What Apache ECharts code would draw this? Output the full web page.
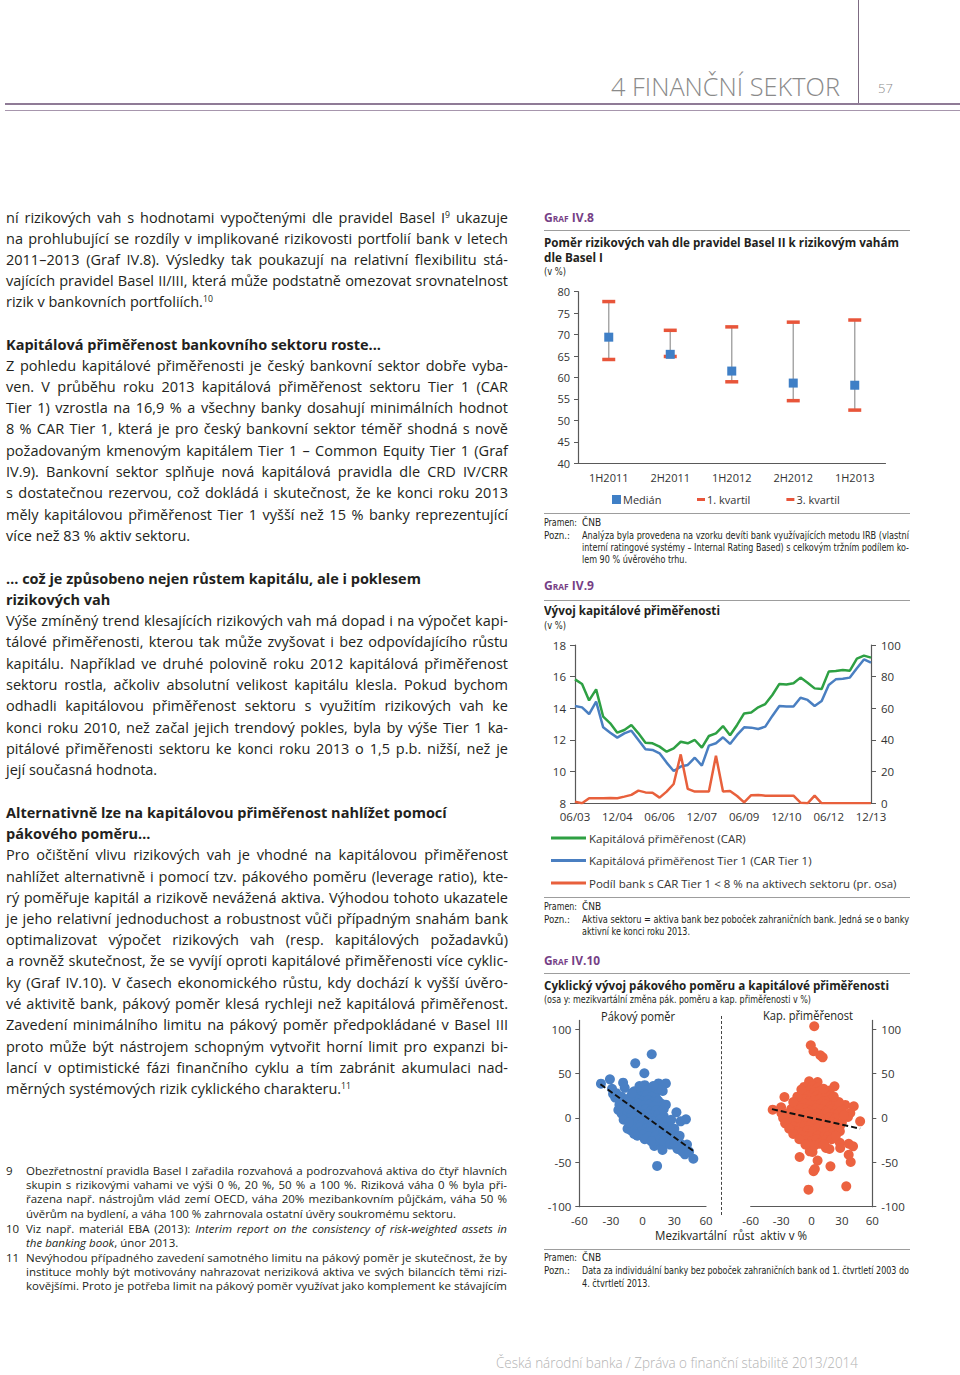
<!DOCTYPE html>
<html><head><meta charset="utf-8">
<script src="https://cdn.jsdelivr.net/npm/echarts@6/dist/echarts.min.js"></script>
<style>
html,body{margin:0;padding:0;background:#fff;}
#page{position:relative;width:960px;height:1375px;overflow:hidden;font-family:'Open Sans',sans-serif;color:#231f20;}
#chart{position:absolute;left:0;top:0;width:960px;height:1375px;}
.t{position:absolute;white-space:nowrap;transform-origin:0 50%;pointer-events:none;}
.sup{font-size:0.6em;vertical-align:0.55em;line-height:0;}
</style></head><body><div id="page"><div id="chart"></div></div>
<script>
// ---------- DATA ----------
// Graf IV.8
const q8Cats = ['1H2011','2H2011','1H2012','2H2012','1H2013'];
const q8Median = [69.4, 65.4, 61.5, 58.7, 58.2];
const q8Q1 = [64.2, 64.9, 59.0, 54.6, 52.4];
const q8Q3 = [77.7, 71.0, 71.8, 72.9, 73.4];
const q8YTicks = {min:40, max:80, interval:5};

// Graf IV.9
const q9Dates = ['06/03','09/03','12/03','03/04','06/04','09/04','12/04','03/05','06/05','09/05','12/05',
 '03/06','06/06','09/06','12/06','03/07','06/07','09/07','12/07','03/08','06/08','09/08','12/08',
 '03/09','06/09','09/09','12/09','03/10','06/10','09/10','12/10','03/11','06/11','09/11','12/11',
 '03/12','06/12','09/12','12/12','03/13','06/13','09/13','12/13'];
const q9Car = [15.83,15.54,14.5,15.2,13.47,13.05,12.46,12.63,12.95,12.42,11.83,11.79,11.58,11.26,11.47,11.89,11.79,12.0,11.52,12.25,12.42,12.88,12.3,12.95,13.68,13.73,14.06,14.27,14.84,15.54,15.5,15.58,15.94,15.62,15.26,15.22,16.32,16.36,16.42,16.38,17.14,17.33,17.2];
const q9Tier1 = [14.15,14.06,13.64,14.42,12.8,12.46,12.15,12.42,12.59,12.0,11.41,11.37,11.16,10.57,10.04,10.32,10.42,10.88,10.38,11.64,11.79,12.17,11.75,12.32,12.8,12.78,12.69,12.84,13.52,14.15,14.11,14.11,14.67,14.53,14.15,14.46,15.47,15.83,15.87,15.94,16.53,17.09,16.88];
const q9Share = [1.0,0,3.2,3.2,3.2,3.4,3.2,4.2,5.3,8.0,6.9,6.7,3.6,7.4,12.2,30.9,9.1,7.4,7.4,7.4,30.1,7.4,7.8,4.6,0.6,5.1,5.3,4.8,4.8,4.8,4.8,4.8,0.4,0,4.8,0,0,0,0,0,0,0,0];
const q9Names = ['Kapitálová přiměřenost (CAR)','Kapitálová přiměřenost Tier 1 (CAR Tier 1)','Podíl bank s CAR Tier 1 < 8 % na aktivech sektoru (pr. osa)'];

// Graf IV.10
const q10Ticks = [-100,-50,0,50,100];
const levBank = [
 [-39.5,38.7],[-31,43.6],[-29,33],[-18.5,39.8],[-17,34],[-7,61.6],[1.6,50.4],[8.6,71.8],[15,39],[22,39],[19,30.5],[18,16],[32,6.4],[36,-3.8],[41,-1.5],[-14.3,-12],[-11,-14],[11,-31.6],[18.2,-32.3],[18.8,-36],[13.7,-54],[48,-46],[40,-41],[37,-37],[-22,15],[-26,23],
 [-3,36],[2,37],[6,33],
 [-8,30],[-2,29],[3,31],[8,29],[12,27],
 [-6,25],[-1,24],[4,26],[9,24],[13,22],
 [-10,20],[-5,21],[0,19],[5,20],[10,18],[15,19],
 [-14,14],[-9,15],[-4,16],[1,14],[6,15],[11,13],[16,12],
 [-17,9],[-12,11],[-7,10],[-2,9],[3,10],[8,8],[13,9],[18,7],
 [-15,4],[-10,5],[-5,6],[0,4],[5,5],[10,3],[15,4],[20,2],
 [-13,-1],[-8,0],[-3,1],[2,-1],[7,0],[12,-2],[17,-1],[22,-3],
 [-10,-6],[-5,-4],[0,-5],[5,-6],[10,-4],[15,-7],[20,-5],[25,-8],
 [-7,-11],[-2,-10],[3,-12],[8,-9],[13,-11],[18,-13],[23,-10],[28,-14],
 [-6,-16],[-1,-15],[4,-17],[9,-14],[14,-16],[19,-18],[24,-15],[29,-19],
 [-5,-20],[0,-19],[6,-21],[12,-20],[18,-22],[23,-21],[28,-24],[32,-22],
 [14,-25],[20,-26],[25,-27],[30,-25],[35,-28],
 [26,-30],[31,-31],[36,-32],[39,-34],
 [33,-35],[38,-38],
 [-25,28],[-20,24],[-16,20],[-21,18],[-12,23],
 [-20,5],[-18,-2],[25,-15],[30,-12],[27,-2],[20,10],[22,15],[-10,28],[14,33],[10,36],
 [-13,-5],[35,-20],[42,-30],[44,-38],[30,-28],[-8,-18],[2,-24],[8,-26],[-23,9],[-28,27]
];
const levTrend = [[-40,38],[49,-38]];
const capBank = [
 [2.7,103.4],[-0.7,82],[2,75.2],[8.7,70.7],[11,68.4],[-2.3,41.4],[6,40.6],[-7.3,35],[22.7,35.7],[-26.7,23.7],[-38.3,9.4],[-29.7,5.6],[33.3,14.7],[41.7,13.2],[48,-3.8],[38.3,5.6],[36,1.1],[28,-9.4],[28,-28],[28.3,-33.8],[36.7,-29],[41,-32],[36.7,-41.4],[38.7,-49.6],[-11.7,-44],[-1.7,-37.6],[1,-38.3],[6,-48],[3.3,-57.5],[2,-60],[18.7,-54.5],[-3,-80.8],[34.3,-77],[14.3,-33.8],[17.7,-35],
 [-4,35],[1,36],[6,34],
 [-7,30],[-2,31],[3,29],[8,30],[13,28],[18,31],
 [-10,25],[-5,26],[0,24],[5,25],[10,24],[15,26],
 [-12,20],[-7,21],[-2,19],[3,20],[8,21],[13,19],[18,20],
 [-16,15],[-11,14],[-6,16],[-1,15],[4,14],[9,16],[14,15],[19,13],[24,15],
 [-20,10],[-15,9],[-10,11],[-5,10],[0,9],[5,11],[10,10],[15,8],[20,10],[25,9],
 [-24,5],[-19,6],[-14,4],[-9,5],[-4,6],[1,4],[6,5],[11,3],[16,6],[21,4],[26,5],
 [-22,0],[-17,-1],[-12,1],[-7,0],[-2,-1],[3,1],[8,0],[13,-2],[18,1],[23,-1],
 [-20,-5],[-15,-6],[-10,-4],[-5,-5],[0,-6],[5,-4],[10,-5],[15,-7],[20,-5],[25,-6],
 [-17,-10],[-12,-11],[-7,-9],[-2,-10],[3,-12],[8,-10],[13,-9],[18,-11],[22,-13],
 [-14,-15],[-9,-16],[-4,-14],[1,-15],[6,-17],[11,-15],[16,-16],[21,-18],
 [-9,-20],[-4,-21],[1,-19],[6,-20],[11,-22],[16,-21],
 [-5,-25],[0,-26],[5,-24],[10,-27],[14,-25],
 [-2,-30],[3,-31],[8,-29],
 [-28,0],[-26,-6],[-22,-12],[-18,-18],[-12,-24],[28,-15],[30,-5],[30,10],[27,18],[22,24],
 [-14,24],[-18,18],[12,33],[-10,32],[20,-24],[24,-20],[-6,-30],[12,-30],[-30,12],[32,3]
];
const capTrend = [[-39,10],[48,-12]];

// ---------- CHART ----------
const AX = '#595959';
const TXT = '#333';
const axisBase = {lineStyle:{color:AX,width:1.2}};
const chart = echarts.init(document.getElementById('chart'), null, {renderer:'svg'});
chart.setOption({
  animation:false,
  textStyle:{fontFamily:"'Open Sans',sans-serif"},
  grid:[
    {left:578, top:291.7, width:307.5, height:171.6},
    {left:575, top:645, width:296, height:158.3},
    {left:579.3, top:1020.4, width:126.7, height:186.3},
    {left:750.7, top:1020.4, width:121.6, height:186.3}
  ],
  xAxis:[
    {type:'category', gridIndex:0, data:q8Cats, axisLine:axisBase, axisTick:{show:false},
     axisLabel:{color:TXT, fontSize:11, margin:9}},
    {type:'category', gridIndex:1, data:q9Dates, boundaryGap:false, axisLine:axisBase, axisTick:{show:false},
     axisLabel:{color:TXT, fontSize:11.5, margin:7, interval:5}},
    {type:'value', gridIndex:2, min:-60, max:60, interval:30, splitLine:{show:false}, axisLine:{onZero:false, lineStyle:{color:AX,width:1.2}}, axisTick:{show:false},
     axisLabel:{color:TXT, fontSize:11.5, margin:8}},
    {type:'value', gridIndex:3, min:-60, max:60, interval:30, splitLine:{show:false}, axisLine:{onZero:false, lineStyle:{color:AX,width:1.2}}, axisTick:{show:false},
     axisLabel:{color:TXT, fontSize:11.5, margin:8}}
  ],
  yAxis:[
    {type:'value', gridIndex:0, min:q8YTicks.min, max:q8YTicks.max, interval:q8YTicks.interval, splitLine:{show:false},
     axisLine:{show:true, lineStyle:{color:AX,width:1.2}}, axisTick:{show:true, length:4, lineStyle:{color:AX}},
     axisLabel:{color:TXT, fontSize:11, margin:8}},
    {type:'value', gridIndex:1, min:8, max:18, interval:2, splitLine:{show:false}, position:'left',
     axisLine:{show:true, lineStyle:{color:AX,width:1.2}}, axisTick:{show:true, length:5, lineStyle:{color:AX}},
     axisLabel:{color:TXT, fontSize:11.5, margin:9}},
    {type:'value', gridIndex:1, min:0, max:100, interval:20, splitLine:{show:false}, position:'right',
     axisLine:{show:true, lineStyle:{color:AX,width:1.2}}, axisTick:{show:true, length:5, lineStyle:{color:AX}},
     axisLabel:{color:TXT, fontSize:11.5, margin:10}},
    {type:'value', gridIndex:2, min:-100, max:110, splitLine:{show:false}, position:'left',
     axisLine:{show:true, onZero:false, lineStyle:{color:AX,width:1.2}}, axisTick:{show:true, length:4, customValues:q10Ticks, lineStyle:{color:AX}},
     axisLabel:{color:TXT, fontSize:11.5, margin:8, customValues:q10Ticks}},
    {type:'value', gridIndex:3, min:-100, max:110, splitLine:{show:false}, position:'right',
     axisLine:{show:true, onZero:false, lineStyle:{color:AX,width:1.2}}, axisTick:{show:true, length:4, customValues:q10Ticks, lineStyle:{color:AX}},
     axisLabel:{color:TXT, fontSize:11.5, margin:9, customValues:q10Ticks}}
  ],
  legend:[
    {data:[{name:'Medián', icon:'rect'}], left:612, top:494, padding:0, itemWidth:9, itemHeight:9, itemGap:0,
     textStyle:{color:TXT, fontSize:11, padding:[0,0,0,-3]}},
    {data:[{name:'1. kvartil', icon:'rect'},{name:'3. kvartil', icon:'rect'}], left:697, top:494, padding:0, itemWidth:8, itemHeight:3, itemGap:36,
     textStyle:{color:TXT, fontSize:11, padding:[0,0,0,-3]}},
    {data:q9Names.map(n=>({name:n, icon:'rect'})), orient:'vertical', left:551, top:831, padding:0, itemWidth:35, itemHeight:3, itemGap:8.5,
     textStyle:{color:TXT, fontSize:11.5, lineHeight:14, padding:[0,0,0,-2]}}
  ],
  series:[
    {type:'custom', name:'range', xAxisIndex:0, yAxisIndex:0, silent:true, z:1,
     data:q8Cats.map((c,i)=>[i,q8Q1[i],q8Q3[i]]),
     encode:{x:0, y:[1,2]},
     renderItem:function(params, api){
       const a = api.coord([api.value(0), api.value(1)]);
       const b = api.coord([api.value(0), api.value(2)]);
       return {type:'line', shape:{x1:a[0],y1:a[1],x2:b[0],y2:b[1]}, style:{stroke:'#a3a3a3', lineWidth:1.4}};
     }},
    {type:'scatter', name:'1. kvartil', xAxisIndex:0, yAxisIndex:0, data:q8Q1, symbol:'rect', symbolSize:[13,3.5], itemStyle:{color:'#e8553a', opacity:1}, z:3},
    {type:'scatter', name:'3. kvartil', xAxisIndex:0, yAxisIndex:0, data:q8Q3, symbol:'rect', symbolSize:[13,3.5], itemStyle:{color:'#e8553a', opacity:1}, z:3},
    {type:'scatter', name:'Medián', xAxisIndex:0, yAxisIndex:0, data:q8Median, symbol:'rect', symbolSize:9, itemStyle:{color:'#3f7fc6', opacity:1}, z:4},

    {type:'line', name:q9Names[0], xAxisIndex:1, yAxisIndex:1, data:q9Car, symbol:'none', lineStyle:{color:'#2ea043', width:2.5}, itemStyle:{color:'#2ea043'}},
    {type:'line', name:q9Names[1], xAxisIndex:1, yAxisIndex:1, data:q9Tier1, symbol:'none', lineStyle:{color:'#4a7fc1', width:2.5}, itemStyle:{color:'#4a7fc1'}},
    {type:'line', name:q9Names[2], xAxisIndex:1, yAxisIndex:2, data:q9Share, symbol:'none', lineStyle:{color:'#e8603c', width:2.5}, itemStyle:{color:'#e8603c'}},

    {type:'scatter', name:'Pákový poměr', xAxisIndex:2, yAxisIndex:3, data:levBank, symbolSize:10, itemStyle:{color:'#4a80c4', opacity:1}},
    {type:'line', name:'trend pák.', xAxisIndex:2, yAxisIndex:3, data:levTrend, symbol:'none', z:5, lineStyle:{color:'#111', width:2, type:[6,3]}},
    {type:'scatter', name:'Kap. přiměřenost', xAxisIndex:3, yAxisIndex:4, data:capBank, symbolSize:10, itemStyle:{color:'#ec6240', opacity:1}},
    {type:'line', name:'trend kap.', xAxisIndex:3, yAxisIndex:4, data:capTrend, symbol:'none', z:5, lineStyle:{color:'#111', width:2, type:[6,3]}}
  ]
});

// ---------- PAGE TEXT ----------
const page = document.getElementById('page');
const COND = "'Liberation Sans Narrow','DejaVu Sans Condensed','Open Sans',sans-serif";
function box(l,t,w,h,bg,extra){const d=document.createElement('div');d.style.position='absolute';d.style.left=l+'px';d.style.top=t+'px';d.style.width=w+'px';d.style.height=h+'px';if(bg)d.style.background=bg;if(extra)Object.assign(d.style,extra);page.appendChild(d);}
function T(x,y,html,o){
  o=o||{};
  const d=document.createElement('div');
  d.className='t';
  d.innerHTML=html;
  const fs=o.fs||14.5;
  d.style.fontSize=fs+'px';
  d.style.lineHeight=Math.round(fs*1.3)+'px';
  if(o.fw) d.style.fontWeight=o.fw;
  if(o.c) d.style.color=o.c;
  if(o.ff) d.style.fontFamily=o.ff;
  if(o.sc) d.style.fontVariant='small-caps';
  page.appendChild(d);
  let w=d.getBoundingClientRect().width;
  const h=d.offsetHeight;
  if(o.w){
    if(o.j && w<o.w){
      const n=(d.textContent.match(/ /g)||[]).length;
      if(n>0){ d.style.wordSpacing=((o.w-w)/n)+'px'; w=o.w; }
    } else if(w>o.w){ d.style.transform='scaleX('+(o.w/w)+')'; w=o.w; }
  }
  let left=x;
  if(o.a==='r') left=x-w; else if(o.a==='c') left=x-w/2;
  d.style.left=left+'px';
  d.style.top=(y-h/2)+'px';
}

// header
box(858,0,1,103,'#7d6b82');
box(5,103,955,2,'#8f7b96');
box(5,110,955,1,'#a796ad');
T(840,86,'4 FINANČNÍ SEKTOR',{fs:26,fw:300,c:'#8a8a8a',a:'r',w:229});
T(878,88,'57',{fs:13,fw:300,c:'#8a8a8a'});

// left column body
const BX=6, BW=502;
const body = [
 [217,'ní rizikových vah s hodnotami vypočtenými dle pravidel Basel I<span class="sup">9</span> ukazuje',1],
 [238,'na prohlubující se rozdíly v implikované rizikovosti portfolií bank v letech',1],
 [259,'2011–2013 (Graf IV.8). Výsledky tak poukazují na relativní flexibilitu stá-',1],
 [280,'vajících pravidel Basel II/III, která může podstatně omezovat srovnatelnost',1],
 [301,'rizik v bankovních portfoliích.<span class="sup">10</span>',0],
 [344,'<b>Kapitálová přiměřenost bankovního sektoru roste...</b>',0,387],
 [365,'Z pohledu kapitálové přiměřenosti je český bankovní sektor dobře vyba-',1],
 [386,'ven. V průběhu roku 2013 kapitálová přiměřenost sektoru Tier 1 (CAR',1],
 [407,'Tier 1) vzrostla na 16,9 % a všechny banky dosahují minimálních hodnot',1],
 [428,'8 % CAR Tier 1, která je pro český bankovní sektor téměř shodná s nově',1],
 [450,'požadovaným kmenovým kapitálem Tier 1 – Common Equity Tier 1 (Graf',1],
 [471,'IV.9). Bankovní sektor splňuje nová kapitálová pravidla dle CRD IV/CRR',1],
 [492,'s dostatečnou rezervou, což dokládá i skutečnost, že ke konci roku 2013',1],
 [514,'měly kapitálovou přiměřenost Tier 1 vyšší než 15 % banky reprezentující',1],
 [535,'více než 83 % aktiv sektoru.',0],
 [578,'<b>… což je způsobeno nejen růstem kapitálu, ale i poklesem</b>',0,433],
 [599,'<b>rizikových vah</b>',0,108],
 [620,'Výše zmíněný trend klesajících rizikových vah má dopad i na výpočet kapi-',1],
 [641,'tálové přiměřenosti, kterou tak může zvyšovat i bez odpovídajícího růstu',1],
 [663,'kapitálu. Například ve druhé polovině roku 2012 kapitálová přiměřenost',1],
 [684,'sektoru rostla, ačkoliv absolutní velikost kapitálu klesla. Pokud bychom',1],
 [705,'odhadli kapitálovou přiměřenost sektoru s využitím rizikových vah ke',1],
 [727,'konci roku 2010, než začal jejich trendový pokles, byla by výše Tier 1 ka-',1],
 [748,'pitálové přiměřenosti sektoru ke konci roku 2013 o 1,5 p.b. nižší, než je',1],
 [769,'její současná hodnota.',0],
 [812,'<b>Alternativně lze na kapitálovou přiměřenost nahlížet pomocí</b>',0,456],
 [833,'<b>pákového poměru…</b>',0,150],
 [854,'Pro očištění vlivu rizikových vah je vhodné na kapitálovou přiměřenost',1],
 [876,'nahlížet alternativně i pomocí tzv. pákového poměru (leverage ratio), kte-',1],
 [897,'rý poměřuje kapitál a rizikově nevážená aktiva. Výhodou tohoto ukazatele',1],
 [918,'je jeho relativní jednoduchost a robustnost vůči případným snahám bank',1],
 [939,'optimalizovat výpočet rizikových vah (resp. kapitálových požadavků)',1],
 [960,'a rovněž skutečnost, že se vyvíjí oproti kapitálové přiměřenosti více cyklic-',1],
 [982,'ky (Graf IV.10). V časech ekonomického růstu, kdy dochází k vyšší úvěro-',1],
 [1003,'vé aktivitě bank, pákový poměr klesá rychleji než kapitálová přiměřenost.',1],
 [1024,'Zavedení minimálního limitu na pákový poměr předpokládané v Basel III',1],
 [1046,'proto může být nástrojem schopným vytvořit horní limit pro expanzi bi-',1],
 [1067,'lancí v optimistické fázi finančního cyklu a tím zabránit akumulaci nad-',1],
 [1088,'měrných systémových rizik cyklického charakteru.<span class="sup">11</span>',0,345]
];
body.forEach(r=>T(BX,r[0],r[1],{fs:14.5,w:r[2]?BW:(r[3]||BW),j:r[2]}));

// footnotes
const FX=26, FW=481;
const notes = [
 [1170,'9','Obezřetnostní pravidla Basel I zařadila rozvahová a podrozvahová aktiva do čtyř hlavních',1],
 [1184,'','skupin s rizikovými vahami ve výši 0 %, 20 %, 50 % a 100 %. Riziková váha 0 % byla při-',1],
 [1198,'','řazena např. nástrojům vlád zemí OECD, váha 20% mezibankovním půjčkám, váha 50 %',1],
 [1213,'','úvěrům na bydlení, a váha 100 % zahrnovala ostatní úvěry soukromému sektoru.',0,430],
 [1228,'10','Viz např. materiál EBA (2013): <i>Interim report on the consistency of risk-weighted assets in</i>',1],
 [1242,'','<i>the banking book</i>, únor 2013.',0,160],
 [1257,'11','Nevýhodou případného zavedení samotného limitu na pákový poměr je skutečnost, že by',1],
 [1271,'','instituce mohly být motivovány nahrazovat neriziková aktiva ve svých bilancích těmi rizi-',1],
 [1285,'','kovějšími. Proto je potřeba limit na pákový poměr využívat jako komplement ke stávajícím',1]
];
notes.forEach(r=>{ if(r[1]) T(6,r[0],r[1],{fs:11.5}); T(FX,r[0],r[2],{fs:11.5,w:r[3]?FW:(r[4]||FW),j:r[3]}); });

// footer
T(496,1363,'Česká národní banka / Zpráva o finanční stabilitě 2013/2014',{fs:14,fw:300,c:'#b3b3b3',w:362});

// right column
const RX=544, RW=366, PURPLE='#763f86';
function sep(y){ box(RX,y,RW,1,'#9d9d9d'); }
function graf(y,t,w){ T(RX,y,t,{fs:13,fw:700,c:PURPLE,sc:1,w:w}); }
function note(y,lab,txt,j,w){ if(lab) T(RX,y,lab,{fs:10,ff:COND,w:lab==='Pramen:'?33:26}); T(582,y,txt,{fs:10,ff:COND,w:j?327:(w||327),j:j}); }

graf(217,'Graf IV.8',50); sep(230);
T(RX,243,'Poměr rizikových vah dle pravidel Basel II k rizikovým vahám',{fs:12,fw:700,w:355});
T(RX,258,'dle Basel I',{fs:12,fw:700,w:59});
T(RX,271,'(v %)',{fs:10,ff:COND,w:22});
sep(513);
note(522,'Pramen:','ČNB',0,20);
note(535,'Pozn.:','Analýza byla provedena na vzorku devíti bank využívajících metodu IRB (vlastní',1);
note(547,'','interní ratingové systémy – Internal Rating Based) s celkovým tržním podílem ko-',1);
note(559,'','lem 90 % úvěrového trhu.',0,105);

graf(585,'Graf IV.9',50); sep(600);
T(RX,611,'Vývoj kapitálové přiměřenosti',{fs:12,fw:700,w:176});
T(RX,625,'(v %)',{fs:10,ff:COND,w:22});
sep(897);
note(906,'Pramen:','ČNB',0,20);
note(919,'Pozn.:','Aktiva sektoru = aktiva bank bez poboček zahraničních bank. Jedná se o banky',1);
note(931,'','aktivní ke konci roku 2013.',0,108);

graf(960,'Graf IV.10',56); sep(973);
T(RX,986,'Cyklický vývoj pákového poměru a kapitálové přiměřenosti',{fs:12,fw:700,w:345});
T(RX,999,'(osa y: mezikvartální změna pák. poměru a kap. přiměřenosti v %)',{fs:10,ff:COND,w:267});
T(638,1017,'Pákový poměr',{fs:12.5,a:'c',w:74});
T(808,1016,'Kap. přiměřenost',{fs:12.5,a:'c',w:90});
T(731,1236,'Mezikvartální&nbsp;&nbsp;růst&nbsp;&nbsp;aktiv v %',{fs:12.5,a:'c',w:152});
box(721,1016,0,199,null,{borderLeft:'1.5px dashed #444'});
sep(1249);
note(1257,'Pramen:','ČNB',0,20);
note(1270,'Pozn.:','Data za individuální banky bez poboček zahraničních bank od 1. čtvrtletí 2003 do',1);
note(1283,'','4. čtvrtletí 2013.',0,68);
</script></body></html>
